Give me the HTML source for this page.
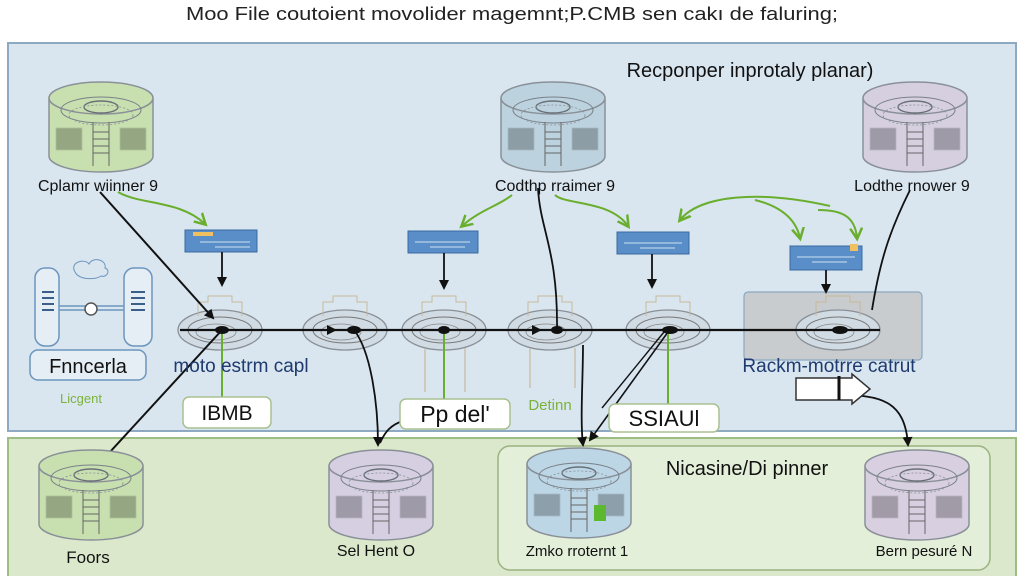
<!DOCTYPE html>
<html><head><meta charset="utf-8"><style>
html,body{margin:0;padding:0;background:#fff;}
svg{display:block;}
text{font-family:"Liberation Sans",sans-serif;}
</style></head><body>
<svg width="1024" height="576" viewBox="0 0 1024 576" xmlns="http://www.w3.org/2000/svg">
<defs>
<marker id="ah" markerWidth="10" markerHeight="10" refX="8" refY="5" orient="auto" markerUnits="userSpaceOnUse"><path d="M0,0 L10,5 L0,10 z" fill="#111"/></marker>
<marker id="ag" markerWidth="14" markerHeight="14" refX="10" refY="7" orient="auto" markerUnits="userSpaceOnUse"><path d="M0,1 L11,7 L0,13" fill="none" stroke="#6aae2e" stroke-width="2.5"/></marker>
<g id="cyl">
<path d="M1,16 L1,74 A52,16 0 0 0 105,74 L105,16" fill="currentColor" stroke="#8a9098" stroke-width="1.5"/>
<ellipse cx="53" cy="16" rx="52" ry="16" fill="currentColor" stroke="#8a9098" stroke-width="1.5"/>
<ellipse cx="53" cy="28" rx="40" ry="13" fill="none" stroke="#7a8088" stroke-width="1"/>
<ellipse cx="53" cy="25" rx="17" ry="6" fill="none" stroke="#6a7078" stroke-width="1.4"/>
<ellipse cx="53" cy="33" rx="32" ry="10" fill="none" stroke="#8a9098" stroke-width="0.8" stroke-dasharray="2 2"/>
<rect x="8" y="46" width="26" height="22" fill="#000" opacity="0.25" stroke="#666" stroke-width="0.8"/>
<rect x="72" y="46" width="26" height="22" fill="#000" opacity="0.25" stroke="#666" stroke-width="0.8"/>
<path d="M45,40 L45,84 M61,40 L61,84 M45,50 H61 M45,57 H61 M45,64 H61 M45,71 H61" stroke="#666" stroke-width="1" fill="none"/>
</g>
<g id="ell">
<ellipse cx="0" cy="0" rx="42" ry="20" fill="#d0dbe4" stroke="#8a9096" stroke-width="1.3"/>
<ellipse cx="0" cy="0" rx="32" ry="13" fill="none" stroke="#777" stroke-width="1"/>
<ellipse cx="-4" cy="2" rx="20" ry="8" fill="none" stroke="#888" stroke-width="0.8"/>
<path d="M-22,-14 L-22,-28 L-12,-28 L-12,-34 L12,-34 L12,-28 L22,-28 L22,-14" fill="none" stroke="#c9b99a" stroke-width="1"/>
</g>
</defs>

<text x="512" y="20" font-size="18" text-anchor="middle" fill="#222" textLength="652" lengthAdjust="spacingAndGlyphs">Moo File coutoient movolider magemnt;P.CMB sen cakı de faluring;</text>

<rect x="8" y="43" width="1008" height="388" fill="#d9e6f0" stroke="#8eaac2" stroke-width="2"/>
<rect x="8" y="438" width="1008" height="140" fill="#dbe8cc" stroke="#9cbd84" stroke-width="2"/>
<rect x="498" y="446" width="492" height="124" rx="12" fill="#e3efd9" stroke="#9ab380" stroke-width="1.5"/>

<text x="750" y="77" font-size="20" text-anchor="middle" fill="#111">Recponper inprotaly planar)</text>

<use href="#cyl" x="48" y="82" color="#c8dfb0"/>
<use href="#cyl" x="500" y="82" color="#bcd3df"/>
<use href="#cyl" x="862" y="82" color="#d5cfe0"/>
<text x="98" y="191" font-size="16" text-anchor="middle" fill="#111">Cplamr wiinner 9</text>
<text x="555" y="191" font-size="16" text-anchor="middle" fill="#111">Codthp rraimer 9</text>
<text x="912" y="191" font-size="16" text-anchor="middle" fill="#111">Lodthe rnower 9</text>

<rect x="744" y="292" width="178" height="68" rx="4" fill="#c8cccf" stroke="#8aa8c0" stroke-width="1.2"/>

<use href="#ell" x="220" y="330"/>
<use href="#ell" x="345" y="330"/>
<use href="#ell" x="444" y="330"/>
<use href="#ell" x="550" y="330"/>
<use href="#ell" x="668" y="330"/>
<use href="#ell" x="838" y="330"/>
<path d="M425,348 V392 M465,348 V392 M530,348 V388 M575,348 V388" stroke="#c9b99a" stroke-width="1.2"/>

<rect x="185" y="230" width="72" height="22" fill="#5a8ec8" stroke="#3a6a9e"/>
<rect x="193" y="232" width="20" height="4" fill="#f0c060"/>
<path d="M200,242 h50 M215,247 h35" stroke="#cfe0f0" stroke-width="1"/>
<rect x="408" y="231" width="70" height="22" fill="#5a8ec8" stroke="#3a6a9e"/>
<path d="M415,242 h55 M430,247 h35" stroke="#cfe0f0" stroke-width="1"/>
<rect x="617" y="232" width="72" height="22" fill="#5a8ec8" stroke="#3a6a9e"/>
<path d="M624,243 h58 M640,248 h35" stroke="#cfe0f0" stroke-width="1"/>
<rect x="790" y="246" width="72" height="24" fill="#5a8ec8" stroke="#3a6a9e"/>
<path d="M797,257 h58 M812,262 h35" stroke="#cfe0f0" stroke-width="1"/>
<rect x="850" y="244" width="8" height="7" fill="#f0c060"/>
<path d="M222,252 V285" stroke="#111" stroke-width="1.8" marker-end="url(#ah)"/>
<path d="M444,253 V288" stroke="#111" stroke-width="1.8" marker-end="url(#ah)"/>
<path d="M652,254 V287" stroke="#111" stroke-width="1.8" marker-end="url(#ah)"/>
<path d="M826,270 V292" stroke="#111" stroke-width="1.8" marker-end="url(#ah)"/>

<path d="M118,192 C140,205 180,200 205,224" fill="none" stroke="#6aae2e" stroke-width="2" marker-end="url(#ag)"/>
<path d="M512,195 C500,205 480,210 462,226" fill="none" stroke="#6aae2e" stroke-width="2" marker-end="url(#ag)"/>
<path d="M555,195 C565,205 610,200 628,226" fill="none" stroke="#6aae2e" stroke-width="2" marker-end="url(#ag)"/>
<path d="M830,206 C760,190 700,195 680,220" fill="none" stroke="#6aae2e" stroke-width="2" marker-end="url(#ag)"/>
<path d="M755,200 C775,205 795,215 800,238" fill="none" stroke="#6aae2e" stroke-width="2" marker-end="url(#ag)"/>
<path d="M818,210 C840,210 855,215 857,238" fill="none" stroke="#6aae2e" stroke-width="2" marker-end="url(#ag)"/>

<path d="M180,330 H880" stroke="#111" stroke-width="2.2"/>
<path d="M300,330 H335" stroke="#111" stroke-width="2" marker-end="url(#ah)"/>
<path d="M500,330 H540" stroke="#111" stroke-width="2" marker-end="url(#ah)"/>
<g fill="#111"><ellipse cx="222" cy="330" rx="7" ry="4"/><ellipse cx="354" cy="330" rx="7" ry="4"/><ellipse cx="444" cy="330" rx="6" ry="4"/><ellipse cx="557" cy="330" rx="6" ry="4"/><ellipse cx="670" cy="330" rx="8" ry="4"/><ellipse cx="840" cy="330" rx="8" ry="4"/></g>

<path d="M100,192 L213,318" stroke="#111" stroke-width="2" fill="none" marker-end="url(#ah)"/>
<path d="M222,330 L98,465" stroke="#111" stroke-width="2" fill="none"/>
<path d="M354,330 C370,350 378,400 378,445" stroke="#111" stroke-width="1.8" fill="none" marker-end="url(#ah)"/>
<path d="M405,420 C390,425 385,432 380,443" stroke="#111" stroke-width="1.8" fill="none"/>
<path d="M538,188 C540,230 558,250 557,330" stroke="#111" stroke-width="1.8" fill="none"/>
<path d="M583,345 C583,380 580,420 583,445" stroke="#111" stroke-width="1.8" fill="none" marker-end="url(#ah)"/>
<path d="M668,332 L590,440" stroke="#111" stroke-width="1.6" fill="none" marker-end="url(#ah)"/>
<path d="M664,332 L602,408" stroke="#111" stroke-width="1.4" fill="none"/>
<path d="M910,190 C890,230 880,260 872,310" stroke="#111" stroke-width="1.8" fill="none"/>
<path d="M838,395 C880,395 905,400 908,445" stroke="#111" stroke-width="1.8" fill="none" marker-end="url(#ah)"/>

<path d="M222,334 V398 M444,334 V400 M668,334 V405" stroke="#6aae2e" stroke-width="2"/>

<rect x="35" y="268" width="24" height="78" rx="10" fill="#e6eef5" stroke="#6c95bd" stroke-width="1.5"/>
<rect x="124" y="268" width="28" height="78" rx="10" fill="#e6eef5" stroke="#6c95bd" stroke-width="1.5"/>
<path d="M42,292 h12 M42,298 h12 M42,304 h12 M42,310 h12 M131,292 h14 M131,298 h14 M131,304 h14 M131,310 h14" stroke="#3a5f88" stroke-width="2"/>
<path d="M59,306 H124 M59,310 H124" stroke="#6c95bd" stroke-width="1.5"/>
<circle cx="91" cy="309" r="6" fill="#fff" stroke="#555" stroke-width="1.5"/>
<path d="M75,272 c-6,-10 10,-14 14,-8 c4,-8 18,-4 16,4 c6,2 2,10 -4,8 c-6,4 -22,4 -26,-4z" fill="none" stroke="#6c95bd" stroke-width="1"/>
<rect x="30" y="350" width="116" height="30" rx="8" fill="#e6eef5" stroke="#6c95bd" stroke-width="1.5"/>
<text x="88" y="373" font-size="20" text-anchor="middle" fill="#111">Fnncerla</text>
<text x="81" y="403" font-size="13" text-anchor="middle" fill="#7ab33a">Licgent</text>
<text x="241" y="372" font-size="19" text-anchor="middle" fill="#1e3a6e">moto estrm capl</text>
<text x="829" y="372" font-size="19" text-anchor="middle" fill="#1e3a6e">Rackm-motrre catrut</text>
<text x="550" y="410" font-size="15" text-anchor="middle" fill="#7ab33a">Detinn</text>

<path d="M796,378 H852 V374 L870,389 L852,404 V400 H796 Z" fill="#fff" stroke="#333" stroke-width="1.5"/>
<path d="M839,376 V400" stroke="#111" stroke-width="3"/>

<rect x="183" y="397" width="88" height="31" rx="6" fill="#fff" stroke="#a8c090" stroke-width="1.5"/>
<text x="227" y="420" font-size="21" text-anchor="middle" fill="#111">IBMB</text>
<rect x="400" y="399" width="110" height="30" rx="6" fill="#fff" stroke="#a8c090" stroke-width="1.5"/>
<text x="455" y="422" font-size="23" text-anchor="middle" fill="#111">Pp del'</text>
<rect x="609" y="404" width="110" height="28" rx="6" fill="#fff" stroke="#a8c090" stroke-width="1.5"/>
<text x="664" y="426" font-size="22" text-anchor="middle" fill="#111">SSIAUl</text>

<use href="#cyl" x="38" y="450" color="#c8dfb0"/>
<use href="#cyl" x="328" y="450" color="#d6cfe2"/>
<use href="#cyl" x="526" y="448" color="#bcd6e6"/>
<use href="#cyl" x="864" y="450" color="#d8cfe0"/>
<rect x="594" y="505" width="12" height="16" fill="#5cb82e"/>
<text x="88" y="563" font-size="17" text-anchor="middle" fill="#111">Foors</text>
<text x="376" y="556" font-size="16" text-anchor="middle" fill="#111">Sel Hent O</text>
<text x="577" y="556" font-size="15" text-anchor="middle" fill="#111">Zmko rroternt 1</text>
<text x="924" y="556" font-size="15" text-anchor="middle" fill="#111">Bern pesuré N</text>
<text x="747" y="475" font-size="20" text-anchor="middle" fill="#111">Nicasine/Di pinner</text>
</svg>
</body></html>
